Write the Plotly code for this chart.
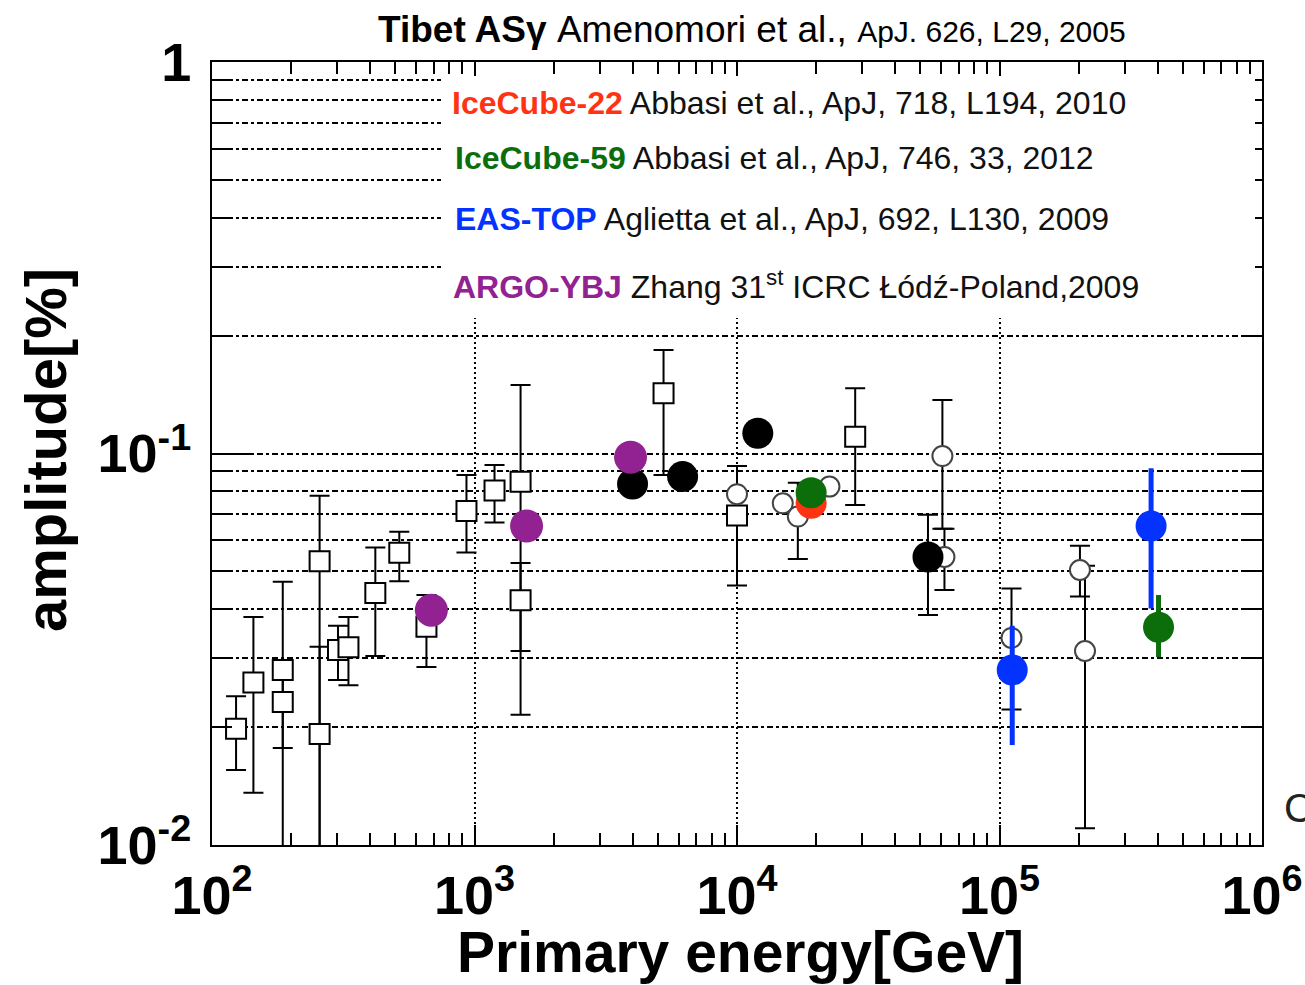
import plotly.graph_objects as go

# ---------------- data ----------------
# open squares (various experiments)
sq_E = [123.5, 143.8, 186, 186, 257, 257, 302, 331, 419, 517, 656, 932, 1192, 1498, 1498, 5250, 10000, 28200]
sq_A = [0.0198, 0.0260, 0.0280, 0.0232, 0.0531, 0.0192, 0.0315, 0.0320, 0.0440, 0.0558, 0.0361, 0.0713, 0.0804, 0.0847, 0.0422, 0.1425, 0.0694, 0.1104]
sq_up = [0.0240, 0.0382, 0.0470, 0.0288, 0.0780, 0.0321, 0.0363, 0.0382, 0.0575, 0.0631, 0.0435, 0.0881, 0.0935, 0.1496, 0.0525, 0.1838, 0.0929, 0.1467]
sq_lo = [0.01555, 0.0136, 0.005, 0.0177, 0.005, 0.005, 0.0264, 0.0256, 0.0304, 0.0472, 0.0285, 0.0559, 0.0666, 0.0313, 0.0215, 0.0881, 0.0460, 0.0739]

# open circles
oc_E = [10000, 14940, 17050, 22500, 60600, 61700, 111100, 202500, 211700]
oc_A = [0.0787, 0.0746, 0.0690, 0.0823, 0.0985, 0.0544, 0.0338, 0.0504, 0.0313]
oc_up = [None, None, 0.0842, None, 0.137, 0.0642, 0.0452, 0.0581, 0.0517]
oc_lo = [None, None, 0.0538, None, 0.0642, 0.0448, 0.0222, 0.0431, 0.01103]

# filled black circles
bf_E = [4000, 6205, 12000, 53400]
bf_A = [0.0836, 0.0873, 0.1126, 0.0544]
bf_up = [None, None, None, 0.0697]
bf_lo = [None, None, None, 0.0387]

# ARGO-YBJ
argo_E = [685, 1579, 3930]
argo_A = [0.0398, 0.0653, 0.0978]

# IceCube-22
ic22_E = [19160]
ic22_A = [0.0746]

# IceCube-59
ic59_E = [19160, 403500]
ic59_A = [0.0794, 0.0360]
ic59_up = [None, 0.0435]
ic59_lo = [None, 0.0302]

# EAS-TOP
eas_E = [111800, 378000]
eas_A = [0.0280, 0.0653]
eas_up = [0.0363, 0.0917]
eas_lo = [0.0180, 0.0402]

x_tickvals = [1e2, 1e3, 1e4, 1e5, 1e6]
x_ticktext = ["10<sup>2</sup>", "10<sup>3</sup>", "10<sup>4</sup>", "10<sup>5</sup>", "10<sup>6</sup>"]
y_tickvals = [0.01, 0.1, 1]
y_ticktext = ["10<sup>-2</sup>", "10<sup>-1</sup>", "1"]

# ---------------- helpers ----------------
def err_arrays(vals, up, lo):
    plus = [None if u is None else u - v for u, v in zip(up, vals)]
    minus = [None if l is None else v - l for l, v in zip(lo, vals)]
    return plus, minus

SANS = "Liberation Sans, Arial, Helvetica, sans-serif"

RED = "#ff3311"
GREEN = "#0b6e0b"
BLUE = "#0433ff"
PURPLE = "#922191"

fig = go.Figure()

p, m = err_arrays(sq_A, sq_up, sq_lo)
fig.add_trace(go.Scatter(
    x=sq_E, y=sq_A, mode="markers",
    marker=dict(symbol="square", size=20, color="white", line=dict(color="black", width=2)),
    error_y=dict(type="data", symmetric=False, array=p, arrayminus=m,
                 color="black", thickness=2, width=10),
    showlegend=False))

p, m = err_arrays(oc_A, oc_up, oc_lo)
fig.add_trace(go.Scatter(
    x=oc_E, y=oc_A, mode="markers",
    marker=dict(symbol="circle", size=20, color="white", line=dict(color="#444444", width=2)),
    error_y=dict(type="data", symmetric=False, array=p, arrayminus=m,
                 color="black", thickness=2, width=10),
    showlegend=False))

p, m = err_arrays(bf_A, bf_up, bf_lo)
fig.add_trace(go.Scatter(
    x=bf_E, y=bf_A, mode="markers",
    marker=dict(symbol="circle", size=31, color="black"),
    error_y=dict(type="data", symmetric=False, array=p, arrayminus=m,
                 color="black", thickness=2, width=10),
    showlegend=False))

fig.add_trace(go.Scatter(
    x=argo_E, y=argo_A, mode="markers",
    marker=dict(symbol="circle", size=33, color=PURPLE), showlegend=False))

fig.add_trace(go.Scatter(
    x=ic22_E, y=ic22_A, mode="markers",
    marker=dict(symbol="circle", size=31, color=RED), showlegend=False))

p, m = err_arrays(ic59_A, ic59_up, ic59_lo)
fig.add_trace(go.Scatter(
    x=ic59_E, y=ic59_A, mode="markers",
    marker=dict(symbol="circle", size=31, color=GREEN),
    error_y=dict(type="data", symmetric=False, array=p, arrayminus=m,
                 color=GREEN, thickness=5, width=0),
    showlegend=False))

p, m = err_arrays(eas_A, eas_up, eas_lo)
fig.add_trace(go.Scatter(
    x=eas_E, y=eas_A, mode="markers",
    marker=dict(symbol="circle", size=31, color=BLUE),
    error_y=dict(type="data", symmetric=False, array=p, arrayminus=m,
                 color=BLUE, thickness=5, width=0),
    showlegend=False))

# ---------------- layout ----------------
L, R, T, B = 212, 43, 62, 140
W, H = 1305, 985
pw, ph = W - L - R, H - T - B

def px_x(px):
    return (px - L) / pw

def px_y(py):
    return (H - B - py) / ph

fig.update_layout(
    width=W, height=H, autosize=False,
    margin=dict(l=L, r=R, t=T, b=B, pad=0, autoexpand=False),
    paper_bgcolor="white", plot_bgcolor="white",
    showlegend=False,
    xaxis=dict(
        type="log", range=[2, 6], automargin=False,
        showline=True, linecolor="black", linewidth=2, mirror="ticks",
        ticks="inside", ticklen=20, tickwidth=2, tickcolor="black",
        tickmode="array", tickvals=x_tickvals, ticktext=x_ticktext,
        tickfont=dict(family=SANS, size=54, color="black", weight="bold"),
        ticklabelstandoff=2,
        showgrid=True, gridcolor="black", gridwidth=1.5, griddash="2px,3px",
        zeroline=False,
        minor=dict(tickmode="array",
                   tickvals=[k * 10 ** e for e in (2, 3, 4, 5) for k in range(2, 10)],
                   ticks="inside", ticklen=12, tickwidth=1.5, tickcolor="black",
                   showgrid=False),
    ),
    yaxis=dict(
        type="log", range=[-2, 0], automargin=False,
        showline=True, linecolor="black", linewidth=2, mirror="ticks",
        ticks="inside", ticklen=40, tickwidth=2, tickcolor="black",
        tickmode="array", tickvals=y_tickvals, ticktext=y_ticktext,
        tickfont=dict(family=SANS, size=54, color="black", weight="bold"),
        ticklabelstandoff=8,
        showgrid=True, gridcolor="black", gridwidth=1.5, griddash="6px,3px,3px,3px",
        zeroline=False,
        minor=dict(tickmode="array",
                   tickvals=[k * 10 ** e for e in (-2, -1) for k in range(2, 10)],
                   ticks="inside", ticklen=20, tickwidth=2, tickcolor="black",
                   showgrid=True, gridcolor="black", gridwidth=1.5,
                   griddash="6px,3px,3px,3px"),
    ),
)

# white box behind the reference list
fig.add_shape(type="rect", xref="paper", yref="paper",
              x0=px_x(441), x1=px_x(1255), y0=px_y(318), y1=px_y(76),
              fillcolor="white", line=dict(width=0), layer="above")

annotations = []
# title
annotations.append(dict(
    xref="paper", yref="paper", x=px_x(752), y=px_y(29), xanchor="center", yanchor="middle",
    text="<b>Tibet AS\u03b3</b> Amenomori et al., <span style='font-size:30px'>ApJ. 626, L29, 2005</span>",
    showarrow=False, font=dict(family=SANS, size=37, color="black")))

refs = [
    ("IceCube-22", RED, " Abbasi et al., ApJ, 718, L194, 2010", 450, 103),
    ("IceCube-59", GREEN, " Abbasi et al., ApJ, 746, 33, 2012", 453, 158),
    ("EAS-TOP", BLUE, " Aglietta et al., ApJ, 692, L130, 2009", 453, 219),
    ("ARGO-YBJ", PURPLE, " Zhang 31<sup>st</sup> ICRC \u0141\u00f3d\u017a-Poland,2009", 451, 285),
]
for name, col, rest, xp, yp in refs:
    annotations.append(dict(
        xref="paper", yref="paper", x=px_x(xp), y=px_y(yp), xanchor="left", yanchor="middle",
        text=f"<b><span style='color:{col}'>{name}</span></b>{rest}",
        showarrow=False, font=dict(family=SANS, size=32, color="#111111")))

# axis titles
annotations.append(dict(
    xref="paper", yref="paper", x=px_x(740), y=px_y(952), xanchor="center", yanchor="middle",
    text="<b>Primary energy[GeV]</b>", showarrow=False,
    font=dict(family=SANS, size=57, color="black")))
annotations.append(dict(
    xref="paper", yref="paper", x=px_x(45), y=px_y(450), xanchor="center", yanchor="middle",
    text="<b>amplitude[%]</b>", textangle=-90, showarrow=False,
    font=dict(family=SANS, size=58, color="black")))
# cut-off character at right edge
annotations.append(dict(
    xref="paper", yref="paper", x=px_x(1282), y=px_y(808), xanchor="left", yanchor="middle",
    text="C", showarrow=False, font=dict(family=SANS, size=40, color="#222222")))

fig.update_layout(annotations=annotations)

fig.write_html("out.html",
               config={"displayModeBar": False, "responsive": False},
               post_script="document.body.style.margin='0';document.body.style.overflow='hidden';")
